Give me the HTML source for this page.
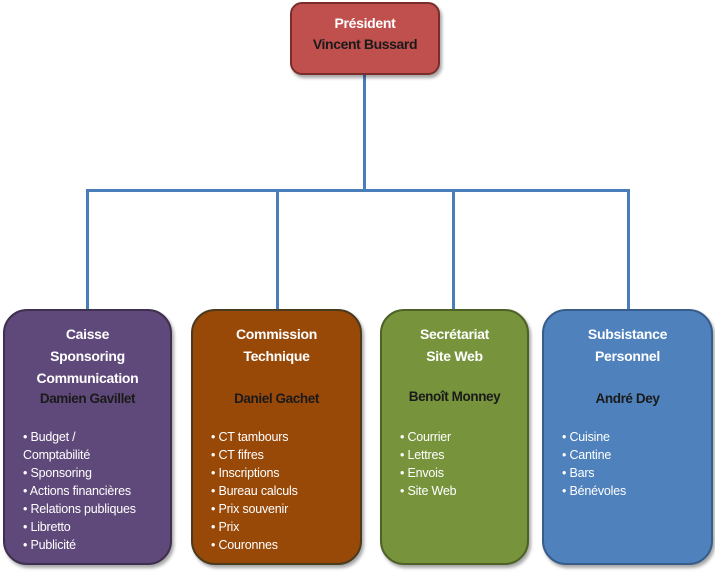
<!DOCTYPE html>
<html><head><style>
body{margin:0;width:715px;height:585px;background:#fff;position:relative;font-family:"Liberation Sans",sans-serif;overflow:hidden}
.l{position:absolute;background:#4a7ebb}
.b{position:absolute;box-sizing:border-box;border-radius:24px;border:2px solid;box-shadow:2px 3px 3px rgba(0,0,0,.35)}
.t{position:absolute;left:0;right:0;text-align:center;font-weight:bold;color:#fff;font-size:14px;line-height:22px;letter-spacing:-0.3px}
.n{position:absolute;left:0;right:0;text-align:center;font-weight:bold;color:#1a1a1a;font-size:13.5px;letter-spacing:-0.4px}
ul{position:absolute;margin:0;padding:0;list-style:none;color:#fff;font-size:12.5px;line-height:18px;letter-spacing:-0.2px}
li{height:18px;line-height:18px;white-space:nowrap}
li:before{content:"• "}
li.x:before{content:""}
</style></head><body>
<div class="l" style="left:363px;top:75px;width:3px;height:116px"></div>
<div class="l" style="left:86px;top:189px;width:544px;height:3px"></div>
<div class="l" style="left:86px;top:189px;width:3px;height:122px"></div>
<div class="l" style="left:276px;top:189px;width:3px;height:122px"></div>
<div class="l" style="left:452px;top:189px;width:3px;height:122px"></div>
<div class="l" style="left:627px;top:189px;width:3px;height:122px"></div>

<div class="b" style="left:290px;top:2px;width:150px;height:73px;background:#c0504d;border-color:#7a2e2c;border-radius:12px">
<div class="t" style="top:8px">Président</div>
<div class="n" style="top:32px;font-size:14px">Vincent Bussard</div></div>

<div class="b" style="left:3px;top:309px;width:169px;height:256px;background:#5f497a;border-color:#3f3050">
<div class="t" style="top:12px">Caisse<br>Sponsoring<br>Communication</div>
<div class="n" style="top:80px">Damien Gavillet</div>
<ul style="left:18px;top:117px"><li>Budget /</li><li class="x">Comptabilité</li><li>Sponsoring</li><li>Actions financières</li><li>Relations publiques</li><li>Libretto</li><li>Publicité</li></ul></div>

<div class="b" style="left:191px;top:309px;width:171px;height:256px;background:#984807;border-color:#4a3a1e">
<div class="t" style="top:12px">Commission<br>Technique</div>
<div class="n" style="top:80px">Daniel Gachet</div>
<ul style="left:18px;top:117px"><li>CT tambours</li><li>CT fifres</li><li>Inscriptions</li><li>Bureau calculs</li><li>Prix souvenir</li><li>Prix</li><li>Couronnes</li></ul></div>

<div class="b" style="left:380px;top:309px;width:149px;height:256px;background:#77933c;border-color:#4e6228">
<div class="t" style="top:12px">Secrétariat<br>Site Web</div>
<div class="n" style="top:78px">Benoît Monney</div>
<ul style="left:18px;top:117px"><li>Courrier</li><li>Lettres</li><li>Envois</li><li>Site Web</li></ul></div>

<div class="b" style="left:542px;top:309px;width:171px;height:256px;background:#4f81bd;border-color:#385d8a">
<div class="t" style="top:12px">Subsistance<br>Personnel</div>
<div class="n" style="top:80px">André Dey</div>
<ul style="left:18px;top:117px"><li>Cuisine</li><li>Cantine</li><li>Bars</li><li>Bénévoles</li></ul></div>
</body></html>
